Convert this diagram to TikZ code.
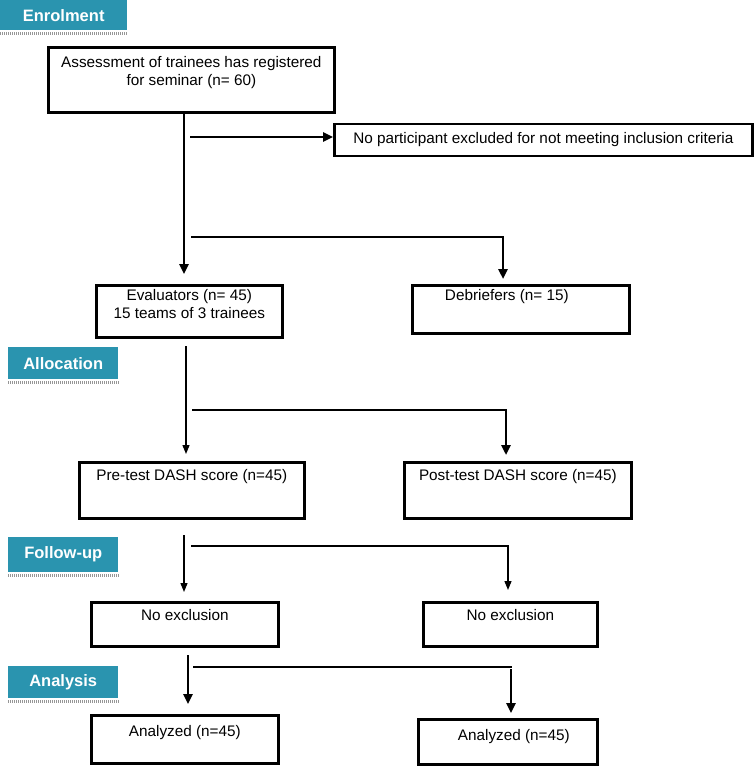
\documentclass[tikz,border=0pt]{standalone}
\usepackage{fontspec}
\setmainfont{Liberation Sans}
\usetikzlibrary{arrows.meta,calc}
\definecolor{hdrteal}{RGB}{42,148,175}
\definecolor{hdrgray}{RGB}{150,150,150}
\begin{document}
\begin{tikzpicture}[x=1pt,y=-1pt,
  box/.style={draw,line width=2.7pt,inner sep=0,anchor=north west},
  txt/.style={anchor=base,align=center,inner sep=0,font=\fontsize{15.3}{17.5}\selectfont},
  hdr/.style={fill=hdrteal,draw=none,inner sep=0,anchor=north west,text=white,font=\bfseries\fontsize{16.5}{18}\selectfont},
  hdrline/.style={draw=hdrgray,line width=2.6pt,dash pattern=on 1pt off 1pt},
  heavy/.style={line width=2.4pt},
  light/.style={line width=1.3pt},
  htip/.style={-{Triangle[width=9pt,length=10pt]}},
  ltip/.style={-{Triangle[width=7pt,length=9pt]}}
]
\useasboundingbox (0,0) rectangle (753,784);
\fill[white] (0,0) rectangle (753,784);

% headers
\node[hdr,minimum width=127pt,minimum height=30pt] (h1) at (0,0) {Enrolment};
\node[hdr,minimum width=110pt,minimum height=32pt] (h2) at (8,347) {Allocation};
\node[hdr,minimum width=110pt,minimum height=35pt] (h3) at (8,537) {Follow-up};
\node[hdr,minimum width=110pt,minimum height=32pt] (h4) at (8,666) {Analysis};
\draw[hdrline] ($(h1.south west)+(0,3)$) -- ($(h1.south east)+(0,3)$);
\draw[hdrline] ($(h2.south west)+(0,3)$) -- ($(h2.south east)+(0,3)$);
\draw[hdrline] ($(h3.south west)+(0,3)$) -- ($(h3.south east)+(0,3)$);
\draw[hdrline] ($(h4.south west)+(0,3)$) -- ($(h4.south east)+(0,3)$);

% boxes
\node[box,minimum width=286pt,minimum height=65pt] (b1) at (47,46) {};
\node[txt] (t1) at ($(b1.north)+(0,39)$) {Assessment of trainees has registered\\for seminar (n= 60)};

\node[box,minimum width=418pt,minimum height=32pt,anchor=west,font=\fontsize{15.3}{17.5}\selectfont] (ex) at (333,140) {No participant excluded for not meeting inclusion criteria};

\node[box,minimum width=186pt,minimum height=52pt] (ev) at (95,284) {};
\node[txt] (tev) at ($(ev.north)+(0,34)$) {Evaluators (n= 45)\\15 teams of 3 trainees};

\node[box,minimum width=217pt,minimum height=48pt] (db) at (411,284) {};
\node[txt] (tdb) at ($(db.north)+(-14,16.5)$) {Debriefers (n= 15)};

\node[box,minimum width=225pt,minimum height=56pt] (pre) at (78,461) {};
\node[txt] (tpre) at ($(pre.north)+(0,19.5)$) {Pre-test DASH score (n=45)};

\node[box,minimum width=227pt,minimum height=56pt] (post) at (403,461) {};
\node[txt] (tpost) at ($(post.north)+(0,19.5)$) {Post-test DASH score (n=45)};

\node[box,minimum width=187pt,minimum height=44pt] (ne1) at (90,601) {};
\node[txt] (tne1) at ($(ne1.north)+(0,19.5)$) {No exclusion};

\node[box,minimum width=174pt,minimum height=44pt] (ne2) at (422,601) {};
\node[txt] (tne2) at ($(ne2.north)+(0,19.5)$) {No exclusion};

\node[box,minimum width=187pt,minimum height=48pt] (an1) at (90,714) {};
\node[txt] (tan1) at ($(an1.north)+(0,22.5)$) {Analyzed (n=45)};

\node[box,minimum width=179pt,minimum height=45pt] (an2) at (417,718) {};
\node[txt] (tan2) at ($(an2.north)+(6,22.5)$) {Analyzed (n=45)};

% enrolment connectors
\coordinate (a1) at (184,274);
\draw[heavy,htip] (a1 |- b1.south) -- (a1);
\coordinate (a2) at (190,137);
\draw[heavy,htip] (a2) -- (ex.west |- a2);
\coordinate (a3) at (191,237);
\coordinate (a3r) at (503,237);
\coordinate (a3e) at (503,279);
\draw[light] (a3) -- (a3r);
\draw[heavy,htip] ($(a3r)+(0,-0.6)$) -- (a3e);

% allocation connectors
\coordinate (b1s) at (186,346);
\coordinate (b1e) at (186,454);
\draw[light,ltip] (b1s) -- (b1e);
\coordinate (b2) at (192,410);
\coordinate (b2r) at (506,410);
\coordinate (b2e) at (506,455);
\draw[light] (b2) -- (b2r);
\draw[heavy,htip] ($(b2r)+(0,-0.6)$) -- (b2e);

% follow-up connectors
\coordinate (c1s) at (184,535);
\coordinate (c1e) at (184,592);
\draw[light,ltip] (c1s) -- (c1e);
\coordinate (c2) at (191,546);
\coordinate (c2r) at (508,546);
\coordinate (c2e) at (508,590);
\draw[light] (c2) -- (c2r);
\draw[light,ltip] ($(c2r)+(0,-0.6)$) -- (c2e);

% analysis connectors
\coordinate (d1s) at (188,655);
\coordinate (d1e) at (188,704);
\draw[heavy,htip] (d1s) -- (d1e);
\coordinate (d2) at (193,667);
\coordinate (d2r) at (512,667);
\draw[light] (d2) -- (d2r);
\coordinate (d3s) at (511,669);
\coordinate (d3e) at (511,713);
\draw[heavy,htip] (d3s) -- (d3e);
\end{tikzpicture}
\end{document}
